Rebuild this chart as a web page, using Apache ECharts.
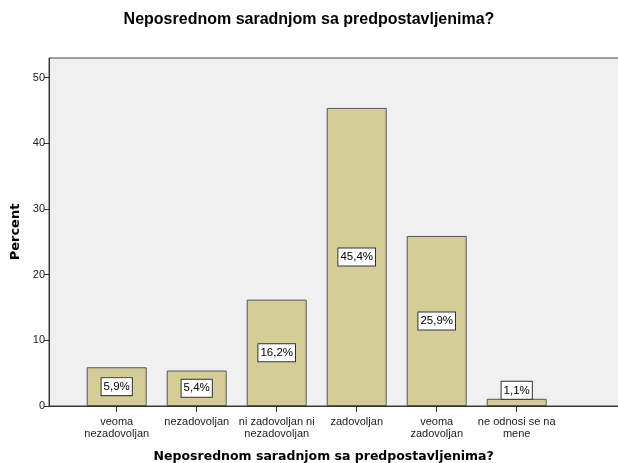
<!DOCTYPE html>
<html>
<head>
<meta charset="utf-8">
<script src="https://cdn.jsdelivr.net/npm/echarts@6/dist/echarts.min.js"></script>
<style>
html, body { margin: 0; padding: 0; background: #fff; }
#chart { width: 618px; height: 463px; }
</style>
</head>
<body>
<div id="chart"></div>
<script>
var categories = ['veoma\nnezadovoljan', 'nezadovoljan', 'ni zadovoljan ni\nnezadovoljan', 'zadovoljan', 'veoma\nzadovoljan', 'ne odnosi se na\nmene'];
var percents = [5.9, 5.4, 16.2, 45.4, 25.9, 1.1];
var yTicks = [0, 10, 20, 30, 40, 50];
var titleText = 'Neposrednom saradnjom sa predpostavljenima?';

// bars too short for an inside label get it on top
var barData = percents.map(function (v) {
	if (v < 3) {
		return { value: v, label: { position: 'top', distance: 0 } };
	}
	return v;
});

var option = {
	backgroundColor: '#ffffff',
	animation: false,
	title: {
		text: titleText,
		left: 'center',
		top: 7,
		textStyle: { fontFamily: 'Liberation Sans', fontWeight: 'bold', fontSize: 16, color: '#000' }
	},
	grid: [
		{ left: 49, right: -5, top: 58, bottom: 57, outerBoundsMode: 'none', show: true, backgroundColor: '#f0f0f0', borderColor: '#444', borderWidth: 1 },
		{ left: 76.7, right: 61.3, top: 58, bottom: 57, outerBoundsMode: 'none' }
	],
	xAxis: [
		{
			gridIndex: 0, type: 'value', min: 0, max: 1,
			axisLine: { show: true, lineStyle: { color: '#333', width: 1 } },
			axisTick: { show: false }, axisLabel: { show: false }, splitLine: { show: false }
		},
		{
			gridIndex: 1, type: 'category', data: categories,
			axisLine: { show: false },
			axisTick: { show: true, alignWithLabel: true, length: 6, lineStyle: { color: '#333' } },
			axisLabel: { interval: 0, fontFamily: 'Liberation Sans', fontSize: 11, color: '#222', lineHeight: 12, margin: 10, verticalAlign: 'top' },
			name: titleText,
			nameLocation: 'middle',
			nameGap: 44,
			nameTextStyle: { fontFamily: 'DejaVu Sans', fontWeight: 'bold', fontSize: 12.5, color: '#000', padding: [0, 0, 0, 14] }
		}
	],
	yAxis: [
		{
			gridIndex: 0, type: 'value', min: 0, max: 53, interval: 10,
			axisLine: { show: true, lineStyle: { color: '#333', width: 1 } },
			axisTick: { show: true, length: 5, customValues: yTicks, lineStyle: { color: '#333' } },
			axisLabel: { customValues: yTicks, fontFamily: 'Liberation Sans', fontSize: 11, color: '#222', margin: 4 },
			splitLine: { show: false },
			name: 'Percent',
			nameLocation: 'middle',
			nameGap: 24,
			nameTextStyle: { fontFamily: 'DejaVu Sans', fontWeight: 'bold', fontSize: 13, color: '#000' }
		},
		{
			gridIndex: 1, type: 'value', min: 0, max: 53, show: false
		}
	],
	series: [{
		type: 'bar',
		xAxisIndex: 1,
		yAxisIndex: 1,
		data: barData,
		barWidth: 60,
		itemStyle: { color: '#d3ce98', borderColor: '#555', borderWidth: 1 },
		label: {
			show: true,
			position: 'inside',
			formatter: function (p) { return String(p.value).replace('.', ',') + '%'; },
			fontFamily: 'Liberation Sans',
			fontSize: 11.5,
			color: '#000',
			backgroundColor: '#fff',
			borderColor: '#333',
			borderWidth: 1,
			padding: [3, 2, 2, 2]
		}
	}]
};

var myChart = echarts.init(document.getElementById('chart'));
myChart.setOption(option);
</script>
</body>
</html>
